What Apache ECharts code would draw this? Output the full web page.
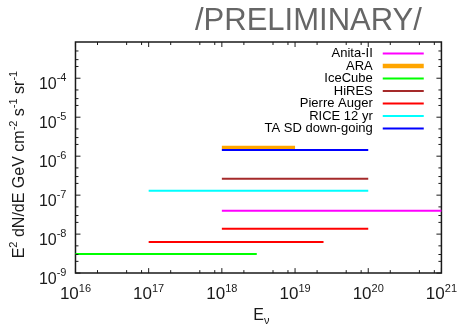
<!DOCTYPE html>
<html>
<head>
<meta charset="utf-8">
<script src="https://cdn.jsdelivr.net/npm/echarts@6/dist/echarts.min.js"></script>
<style>
  html, body { margin: 0; padding: 0; background: #fff; }
  #chart { width: 460px; height: 331px; }
</style>
</head>
<body>
<div id="chart"></div>
<script>
// Experiments listed in the legend, and the colour of each limit line
const experiments = ['Anita-II', 'ARA', 'IceCube', 'HiRES', 'Pierre Auger', 'RICE 12 yr', 'TA SD down-going'];
const experimentColors = ['#ff00ff', '#ffa500', '#00ff00', '#a52a2a', '#ff0000', '#00ffff', '#0000ff'];

// Flux limit segments: owning experiment, energy range (GeV) and E^2 dN/dE level
const segmentOwner = ['Anita-II', 'ARA', 'IceCube', 'HiRES', 'Pierre Auger', 'Pierre Auger', 'RICE 12 yr', 'TA SD down-going'];
const segmentEmin  = [1e18, 1e18, 1e16, 1e18, 1e18, 1e17, 1e17, 1e18];
const segmentEmax  = [1e21, 1e19, 3.0e18, 1e20, 1e20, 2.45e19, 1e20, 1e20];
const segmentFlux  = [3.95e-8, 1.65e-6, 3.08e-9, 2.63e-7, 1.38e-8, 6.27e-9, 1.29e-7, 1.43e-6];

// Axis ranges and tick layout
const xRange = [1e16, 1e21];
const yRange = [1e-9, 8.5e-4];
const xTickExponents = [16, 17, 18, 19, 20, 21];
const yTickExponents = [-9, -8, -7, -6, -5, -4];
const xMinorMultipliers = [2, 5, 8];
const yMinorMultipliers = [2, 3, 5];

const FONT = '"Liberation Sans", Arial, Helvetica, sans-serif';
const INK = '#1a1a1a';

function colorOf(name) {
  return experimentColors[experiments.indexOf(name)];
}
function widthOf(name) {
  return name === 'ARA' ? 4 : 2;
}

// One line series per segment, drawn in legend order
const segmentSeries = segmentOwner.map((owner, i) => ({
  name: owner,
  type: 'line',
  symbol: 'none',
  showSymbol: false,
  silent: true,
  animation: false,
  color: colorOf(owner),
  lineStyle: { color: colorOf(owner), width: widthOf(owner), cap: 'butt' },
  data: [[segmentEmin[i], segmentFlux[i]], [segmentEmax[i], segmentFlux[i]]],
  z: 3 + i
}));

// Tick marks on all four sides: kind 0/1 = x major/minor, 2/3 = y major/minor
const tickMarks = [];
xTickExponents.forEach((e, k) => {
  tickMarks.push([Math.pow(10, e), yRange[0], 0]);
  if (k < xTickExponents.length - 1) {
    xMinorMultipliers.forEach(m => tickMarks.push([m * Math.pow(10, e), yRange[0], 1]));
  }
});
yTickExponents.forEach(e => {
  tickMarks.push([xRange[0], Math.pow(10, e), 2]);
  yMinorMultipliers.forEach(m => {
    const v = m * Math.pow(10, e);
    if (v < yRange[1]) tickMarks.push([xRange[0], v, 3]);
  });
});

const tickSeries = {
  type: 'custom',
  silent: true,
  animation: false,
  z: 10,
  data: tickMarks,
  renderItem: function (params, api) {
    const kind = api.value(2);
    const len = (kind % 2 === 0) ? 5 : 3;
    const style = { stroke: INK, lineWidth: 1 };
    if (kind < 2) {
      const v = api.value(0);
      const b = api.coord([v, yRange[0]]);
      const t = api.coord([v, yRange[1]]);
      return { type: 'group', children: [
        { type: 'line', shape: { x1: b[0], y1: b[1], x2: b[0], y2: b[1] - len }, style: style },
        { type: 'line', shape: { x1: t[0], y1: t[1], x2: t[0], y2: t[1] + len }, style: style }
      ] };
    }
    const v = api.value(1);
    const l = api.coord([xRange[0], v]);
    const r = api.coord([xRange[1], v]);
    return { type: 'group', children: [
      { type: 'line', shape: { x1: l[0], y1: l[1], x2: l[0] + len, y2: l[1] }, style: style },
      { type: 'line', shape: { x1: r[0], y1: r[1], x2: r[0] - len, y2: r[1] }, style: style }
    ] };
  }
};

// "10^n" labels for decades only
function powerLabel(value) {
  const e = Math.log10(value);
  const n = Math.round(e);
  if (Math.abs(e - n) > 1e-6) return '';
  return '{b|10}{s|' + n + '}';
}

const chart = echarts.init(document.getElementById('chart'), null, { renderer: 'canvas' });
chart.setOption({
  animation: false,
  backgroundColor: '#ffffff',
  title: {
    text: '/PRELIMINARY/',
    left: 195,
    top: 6,
    padding: 0,
    textStyle: { fontFamily: FONT, fontSize: 31, fontWeight: 'normal', color: '#666666' }
  },
  grid: {
    left: 74, right: 16, top: 42, bottom: 47,
    show: true, borderColor: INK, borderWidth: 1.5, backgroundColor: 'transparent'
  },
  legend: {
    data: experiments.map(name => ({
      name: name,
      itemStyle: { opacity: 0 },
      lineStyle: { width: name === 'ARA' ? 4.5 : 2, opacity: 1 }
    })),
    orient: 'vertical',
    align: 'right',
    right: 34,
    top: 47,
    padding: 0,
    itemWidth: 41,
    itemHeight: 6,
    itemGap: -0.5,
    selectedMode: false,
    textStyle: { fontFamily: FONT, fontSize: 13, color: '#000', lineHeight: 12, padding: [0, 5, 0, 0] }
  },
  xAxis: {
    type: 'log',
    logBase: 10,
    min: xRange[0],
    max: xRange[1],
    axisLine: { show: false },
    axisTick: { show: false },
    splitLine: { show: false },
    axisLabel: {
      formatter: powerLabel,
      margin: 10,
      color: INK,
      fontFamily: FONT,
      rich: {
        b: { fontFamily: FONT, fontSize: 17, lineHeight: 20, verticalAlign: 'bottom', color: INK },
        s: { fontFamily: FONT, fontSize: 11, lineHeight: 9, verticalAlign: 'top', color: INK }
      }
    },
    name: '{e|E}{n|ν}',
    nameLocation: 'middle',
    nameGap: 29,
    nameTextStyle: {
      padding: [0, 0, 0, 6],
      rich: {
        e: { fontFamily: FONT, fontSize: 16, lineHeight: 18, verticalAlign: 'top', color: INK },
        n: { fontFamily: FONT, fontSize: 11, lineHeight: 10, verticalAlign: 'bottom', color: INK }
      }
    }
  },
  yAxis: {
    type: 'log',
    logBase: 10,
    min: yRange[0],
    max: yRange[1],
    axisLine: { show: false },
    axisTick: { show: false },
    splitLine: { show: false },
    axisLabel: {
      formatter: powerLabel,
      margin: 9,
      padding: [8, 0, 0, 0],
      color: INK,
      fontFamily: FONT,
      rich: {
        b: { fontFamily: FONT, fontSize: 16, lineHeight: 20, verticalAlign: 'bottom', color: INK },
        s: { fontFamily: FONT, fontSize: 11, lineHeight: 9.5, verticalAlign: 'top', color: INK }
      }
    },
    name: '{b|E}{s|2}{b| dN/dE GeV cm}{s|-2}{b| s}{s|-1}{b| sr}{s|-1}',
    nameLocation: 'middle',
    nameRotate: 90,
    nameGap: 46,
    nameTextStyle: {
      padding: [0, 14, 0, 0],
      rich: {
        b: { fontFamily: FONT, fontSize: 16, lineHeight: 20, verticalAlign: 'bottom', color: INK },
        s: { fontFamily: FONT, fontSize: 11, lineHeight: 9, verticalAlign: 'top', color: INK }
      }
    }
  },
  series: segmentSeries.concat([tickSeries])
});
</script>
</body>
</html>
